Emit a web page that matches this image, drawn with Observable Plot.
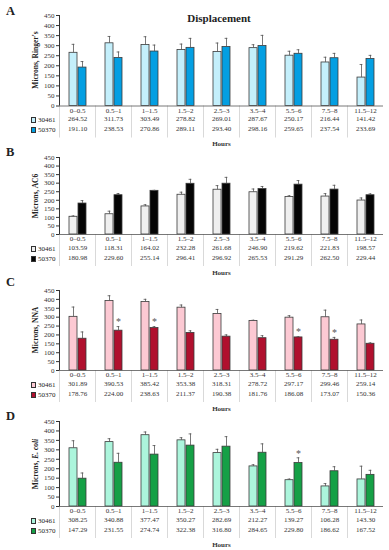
<!DOCTYPE html>
<html><head><meta charset="utf-8">
<script src="https://cdn.jsdelivr.net/npm/d3@7"></script>
<script src="https://cdn.jsdelivr.net/npm/@observablehq/plot@0.6"></script>
<style>
body{margin:0;background:#fff;}
#wrap{position:relative;width:389px;height:550px;font-family:'Liberation Serif',serif;color:#222;}
.panel{position:absolute;left:0;}
.letter{position:absolute;left:6px;font-weight:bold;font-size:12.5px;line-height:1;}
.title{position:absolute;font-weight:bold;font-size:11px;transform:translate(-50%,-50%);white-space:nowrap;}
.ytitle{position:absolute;font-weight:bold;font-size:7.5px;transform:translate(-50%,-50%) rotate(-90deg);white-space:nowrap;}
.leg{position:absolute;font-size:7px;display:flex;align-items:center;transform:translateY(-50%);}
.leg span.sw{display:inline-block;width:3.4px;height:3.4px;border:0.7px solid #333;margin-right:1.5px;}
svg [aria-label="fx-axis label"]{font-weight:bold;}
svg g[aria-label="frame"] > g:first-child{display:none;}
</style></head>
<body><div id="wrap"></div>
<script>
const hours = ["0–0.5","0.5–1","1–1.5","1.5–2","2.5–3","3.5–4","5.5–6","7.5–8","11.5–12"];
const strains = ["30461","50370"];
const yTicks = [0,50,100,150,200,250,300,350,400,450];

const ringer30461 = [264.52,311.73,303.49,278.82,269.01,287.67,250.17,216.44,141.42];
const ringer50370 = [191.10,238.53,270.86,289.11,293.40,298.16,259.65,237.54,233.69];
const ringer30461Sd = [42,34,41,29,44,17,22,26,65];
const ringer50370Sd = [30,30,32,47,43,53,20,24,18];

const ac6_30461 = [103.59,118.31,164.02,232.28,261.68,246.90,219.62,221.83,198.57];
const ac6_50370 = [180.98,229.60,255.14,296.41,296.92,265.53,291.29,262.50,229.44];
const ac6_30461Sd = [5,18,10,15,24,19,7,17,15];
const ac6_50370Sd = [17,10,3,26,37,15,24,25,8];

const nna30461 = [301.89,390.53,385.42,353.38,318.31,278.72,297.17,299.46,259.14];
const nna50370 = [178.76,224.00,238.63,211.37,190.38,181.76,186.08,173.07,150.36];
const nna30461Sd = [55,30,15,15,25,4,11,40,25];
const nna50370Sd = [38,23,8,12,10,14,4,13,5];
const nna50370Star = [false,true,true,false,false,false,true,true,false];

const ecoli30461 = [308.25,340.88,377.47,350.27,282.69,212.27,139.27,106.28,143.30];
const ecoli50370 = [147.29,231.55,274.74,322.38,316.80,284.65,229.80,186.62,167.52];
const ecoli30461Sd = [40,18,17,14,20,9,6,15,70];
const ecoli50370Sd = [30,50,48,62,53,47,28,24,24];
const ecoli50370Star = [false,false,false,false,false,false,true,false,false];

const noStar = hours.map(() => false);

const panels = [
  {letter:"A", title:"Displacement", yTitle:"Microns, Ringer's", top:8.5, plotH:90.5,
   colors:["#c4effb","#049fe2"], v:[ringer30461,ringer50370], sd:[ringer30461Sd,ringer50370Sd], star:[noStar,noStar], letterY:10},
  {letter:"B", yTitle:"Microns, AC6", top:151, plotH:77,
   colors:["#efefef","#050505"], v:[ac6_30461,ac6_50370], sd:[ac6_30461Sd,ac6_50370Sd], star:[noStar,noStar], letterY:150.5},
  {letter:"C", yTitle:"Microns, NNA", top:284, plotH:80,
   colors:["#fcc9d3","#b0102e"], v:[nna30461,nna50370], sd:[nna30461Sd,nna50370Sd], star:[noStar,nna50370Star], letterY:280.5},
  {letter:"D", yTitle:"Microns, <i>E. coli</i>", top:415, plotH:85,
   colors:["#acf5dc","#15a046"], v:[ecoli30461,ecoli50370], sd:[ecoli30461Sd,ecoli50370Sd], star:[noStar,ecoli50370Star], letterY:415}
];

const wrap = document.getElementById("wrap");
const MT = 6, MB = 44, ML = 57, MR = 4;

for (const p of panels) {
  const rows = hours.flatMap((h, i) => strains.map((s, j) => ({
    hour: h, strain: s, value: p.v[j][i], sd: p.sd[j][i], star: p.star[j][i]
  })));
  const chart = Plot.plot({
    width: 389, height: MT + p.plotH + MB,
    marginTop: MT, marginBottom: MB, marginLeft: ML, marginRight: MR,
    style: {fontFamily: "'Liberation Serif', serif", fontSize: "7px", color: "#333", overflow: "visible", background: "transparent"},
    fx: {domain: hours, padding: 0, axis: "bottom", tickSize: 0, tickPadding: 2, label: "Hours", labelAnchor: "center", labelOffset: 40},
    x: {domain: strains, axis: null, paddingInner: 0.15, paddingOuter: 0.9},
    y: {domain: [0, 450], ticks: yTicks, tickSize: 3, tickPadding: 2, label: null, line: true},
    color: {domain: strains, range: p.colors},
    marks: [
      Plot.frame({anchor: "left", stroke: "#c8c8c8", strokeWidth: 0.7, insetTop: p.plotH, insetBottom: -31}),
      Plot.barY(rows, {fx: "hour", x: "strain", y: "value", fill: "strain", stroke: "#3a3a3a", strokeWidth: 0.8}),
      Plot.ruleX(rows, {fx: "hour", x: "strain", y1: "value", y2: d => d.value + d.sd, stroke: "#555", strokeWidth: 0.8}),
      Plot.tickY(rows, {fx: "hour", x: "strain", y: d => d.value + d.sd, stroke: "#555", strokeWidth: 0.8, insetLeft: 2.6, insetRight: 2.6}),
      Plot.text(rows.filter(d => d.star), {fx: "hour", x: "strain", y: d => d.value + d.sd, text: () => "*", dy: -4.5, fontSize: 10, fill: "#555"}),
      Plot.ruleY([0], {stroke: "#555", strokeWidth: 0.8}),
      Plot.text(rows.filter(d => d.strain === strains[0]), {fx: "hour", text: d => d.value.toFixed(2), frameAnchor: "bottom", dy: 15, fill: "#333"}),
      Plot.text(rows.filter(d => d.strain === strains[1]), {fx: "hour", text: d => d.value.toFixed(2), frameAnchor: "bottom", dy: 25, fill: "#333"})
    ]
  });
  const div = document.createElement("div");
  div.className = "panel";
  div.style.top = p.top + "px";
  div.appendChild(chart);
  wrap.appendChild(div);

  const L = document.createElement("div");
  L.className = "letter"; L.textContent = p.letter;
  L.style.top = (p.letterY - 5) + "px";
  wrap.appendChild(L);

  if (p.title) {
    const t = document.createElement("div");
    t.className = "title"; t.textContent = p.title;
    t.style.left = "219px"; t.style.top = "18px";
    wrap.appendChild(t);
  }
  const yt = document.createElement("div");
  yt.className = "ytitle"; yt.innerHTML = p.yTitle;
  yt.style.left = "35px"; yt.style.top = (p.top + MT + p.plotH / 2) + "px";
  wrap.appendChild(yt);

  const zero = p.top + MT + p.plotH;
  strains.forEach((s, j) => {
    const lg = document.createElement("div");
    lg.className = "leg";
    lg.style.left = "31px";
    lg.style.top = (zero + 15 + 10 * j) + "px";
    lg.innerHTML = `<span class="sw" style="background:${p.colors[j]}"></span>${s}`;
    wrap.appendChild(lg);
  });
}
</script></body></html>
